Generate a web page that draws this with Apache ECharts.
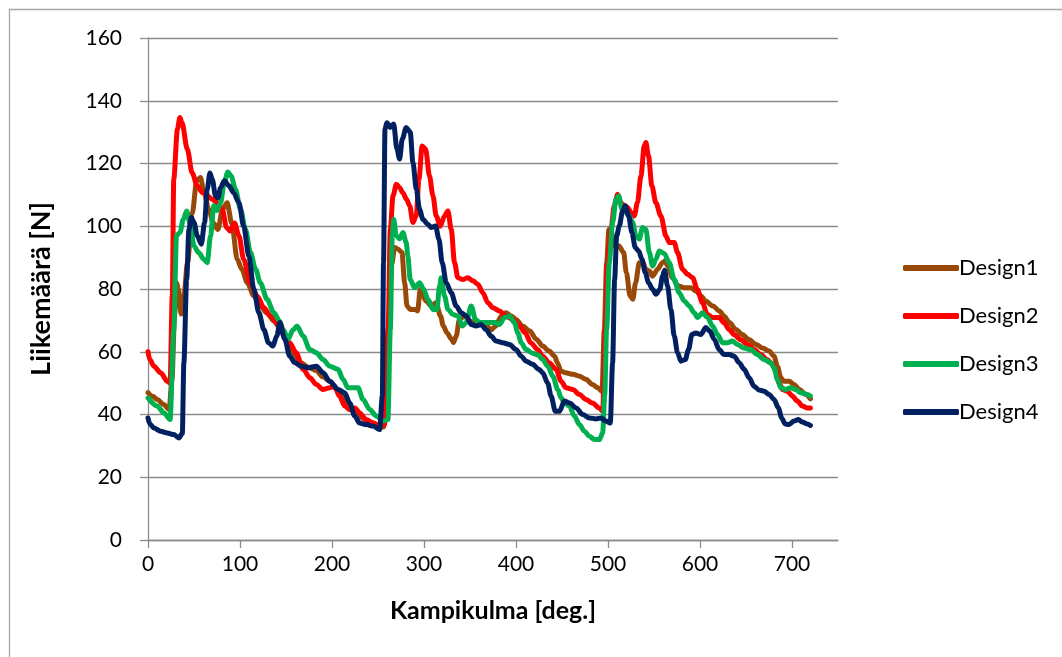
<!DOCTYPE html>
<html>
<head>
<meta charset="utf-8">
<title>Liikemäärä</title>
<script src="https://cdn.jsdelivr.net/npm/echarts@6.0.0/dist/echarts.min.js"></script>
<style>
html, body { margin: 0; padding: 0; background: #fff; }
#main { width: 1062px; height: 657px; }
</style>
</head>
<body>
<div id="main"></div>
<script>
// [kampikulma deg, liikemäärä N]
var design1 = [[0,47],[5,45.8],[10,44.8],[17,43.2],[23,41.6],[26,51],[29,72],[31,82],[33,80],[36,72],[39,78],[43,88.4],[48,104],[53,114.5],[57,115.5],[61,110.7],[66,105.4],[71,101],[76,99],[81,105.4],[86,107.5],[91,101],[97,89.5],[102,86.3],[108,82],[115,77.8],[122,74.6],[129,72.4],[137,69.8],[142,68],[150,64],[158,59.5],[166,56.5],[175,55],[183,54],[190,52],[198,50.5],[205,48],[212,45.5],[218,42.5],[225,40.5],[232,39],[240,37.8],[248,36.8],[256,36],[258,45],[261,67],[265,88],[268,93.2],[272,92.7],[276,91.6],[279,82],[281.5,74.6],[285,73.5],[290,73.5],[293,73],[296,80],[299,77.8],[302,76.2],[308,74.6],[313,75.6],[318,71.4],[321,68.2],[325,66],[330,64],[332,62.9],[335,65],[338.5,70.3],[344,71.4],[349.5,69.8],[355,69.3],[360,68.7],[368,68.2],[373,67],[378,68.2],[384,71.4],[389,72.4],[395,71.4],[400,70.3],[407,68.2],[415,66.6],[422,64],[429,61.8],[436,60.2],[442,58.6],[445,56.5],[449,53.8],[454,53.3],[462,52.8],[469,52.2],[476,51.2],[483,49.6],[489,48.5],[493.5,47.4],[496,67],[498.5,88.4],[501,99],[503,99],[507,93.7],[512,93.7],[517,91.6],[520,85.2],[524,77.8],[527,76.7],[530,82],[534,88.4],[538,88.4],[541,86.3],[545,85.7],[548.5,84.1],[554,86.3],[559,88.4],[562,88.9],[565,87.3],[570,83.6],[576,81],[583,80.4],[590,80.4],[595.5,79.4],[601,77.8],[606,76.2],[614,74.6],[621,73],[626,71.4],[632,69.3],[639,67.1],[646,65.5],[653,63.9],[661,62.3],[668,61.2],[675,60.2],[680.5,58.6],[684,55.4],[688,51.7],[691,50.6],[697,50.6],[702,49.6],[708,48],[715,46.4],[720,45]];

var design2 = [[0,60],[2,57.5],[6.5,55.4],[13.7,53.3],[21,50.6],[24,50],[26.4,77.8],[28,115],[32,131],[34.7,134.7],[37,133],[42.7,124.6],[48,117],[53.5,112.9],[59,110.7],[64.4,109.7],[69.8,108.6],[75,107.5],[80.7,105.4],[85.4,99.6],[89,98.5],[94,101],[98.8,97],[104,89.5],[111,82],[118.7,77.8],[126,74],[133,71.4],[140,69.3],[147,66],[154,62.9],[161,59.7],[168.6,54.4],[176,51.7],[183,49.6],[190,48],[197.5,48.5],[203,49],[208,45.9],[214,42.7],[219,41.6],[225,42.1],[230,40.5],[237,38.4],[245,37.3],[252,36.3],[257,36.8],[261,67],[263.4,99],[266.3,109.7],[270,113.4],[273.5,112.3],[277,110.7],[281,108.6],[284.4,106.5],[288,101.2],[291.6,103.3],[294.5,115],[298,125.6],[301.7,124.6],[306,116],[309.7,109.7],[313.3,103.3],[317.6,100],[322.3,103.3],[326,104.9],[329.6,99],[333.2,88.4],[336.8,83.6],[342,83],[347.7,83.6],[353,82.6],[358.5,81.5],[364,78.8],[369.4,75.6],[375,74],[382,73],[389,71.4],[396.5,70.3],[403.7,68.2],[410,66],[416,62.9],[423.5,60.7],[429,58.6],[436,56.5],[443.5,54.4],[449,50.6],[454.4,48.5],[461.6,48],[469,46.4],[476,44.8],[483,43.7],[490.6,42.1],[494.2,41],[497,67],[499.6,88.4],[503.2,99],[506.8,106.5],[510.5,110.2],[514,107.5],[517.7,106.5],[521.3,106],[525,104.4],[528.6,103.3],[532,107.5],[535.8,116],[539.4,125.6],[541.2,126.7],[544,122.4],[547.7,112.9],[552,107.5],[557.5,103.3],[563,96.9],[566.6,94.8],[572,94.8],[575.6,91.6],[581,86.3],[586.5,84.7],[592,83.6],[597,79.9],[602.7,75.6],[608,71.9],[613.6,70.9],[621,70.9],[626,69.3],[631.7,67.1],[637,65.5],[644,63.9],[651.6,62.3],[659,60.7],[666,59.1],[673,57.5],[678.7,56],[682.3,53.8],[686,50.1],[689.6,48],[695,47.4],[700.4,45.9],[705.8,44.3],[711.3,42.7],[716.7,42.1],[720,42.1]];

var design3 = [[0,45.3],[10,42.7],[17.4,40.5],[24,38.4],[28,67],[31,97],[34.7,98],[38.4,102.2],[42,104.9],[45.6,101],[50,93.7],[55,91.6],[60.8,89.5],[64.4,88.4],[68,97],[71.6,106.5],[75,105],[78.9,107.5],[83,114],[86.8,117.3],[90.4,116],[95,111.8],[100.6,105.4],[106,99],[111.4,91.6],[117,86.3],[122,82],[129.5,76.7],[136.8,72.4],[143,69.8],[147,67],[152.3,64],[157.7,67],[162,68.2],[168.6,65],[175.8,60.7],[183,59.7],[190.3,57.5],[197.5,55.4],[206.6,54.4],[212,51.2],[217.4,48.5],[222.8,48.5],[228.3,48.5],[233.7,44.8],[241,41.6],[248.2,39.5],[255.4,37.9],[260.8,38.4],[263.4,67],[265.5,97],[267,102.2],[269.9,97],[273.5,96],[277.1,98],[280.7,94.8],[282.5,90.5],[285,83],[289.8,80.4],[295.2,82],[299.5,80],[304.3,76.7],[309.7,73.5],[314,73.5],[317,81],[318.7,83.6],[322.3,77.8],[326,73.5],[331.4,71.9],[336.8,71.4],[341.5,68.2],[345.9,69.3],[351.3,74.6],[356,70.3],[360.3,69.3],[365.8,69.3],[371.2,69.3],[376.6,69.3],[382,68.7],[387.5,70.9],[392.9,71.4],[398.3,69.3],[402,66],[405.6,62.9],[411,60.7],[418,59.5],[424,59],[429,57.5],[434.5,55.4],[440,52.2],[445.4,48],[449,45.3],[452.6,43.7],[458,42.7],[463.4,39.5],[468.9,36.8],[474.3,34.7],[479.7,33.1],[485.2,32],[490.6,32],[494.2,34.1],[496.4,45.9],[498.5,67],[501.4,88.4],[505,101.2],[508.7,108.6],[511.6,109.7],[515.2,105.4],[519.5,104.4],[523.1,103.3],[526.8,101.2],[530.4,97],[534,95.9],[537.6,99.6],[541.2,99],[544.9,91.6],[548.5,87.3],[552.1,89.5],[555.7,92.1],[561.1,91.3],[566.6,88.4],[572,83],[577.4,78.8],[582.8,76.2],[588.3,74.6],[593.7,72.4],[597.3,70.9],[602.7,72.4],[608.2,70.9],[613.6,68.2],[619,65.5],[624.4,62.9],[629.9,62.9],[635.3,63.4],[640.7,62.3],[648,61.2],[655.2,60.7],[662.4,59.1],[669.7,57.5],[676.9,56.5],[680.5,54.9],[684.1,51.2],[687.8,48.5],[693.2,48],[698.6,48.5],[704,48],[709.5,46.9],[716.7,46.4],[720,45.9]];

var design4 = [[0,38.9],[2,37],[6.5,35.7],[13.7,34.7],[21,34.1],[28,33.6],[33.6,32.5],[37.3,34],[39,56.5],[42,83],[44.5,99],[47,102.8],[50,101.2],[53.5,97],[58,94.3],[61.5,101.2],[64.4,111.8],[67.3,117],[69.8,115],[73.4,109.7],[76,109],[78.9,112.3],[83,114.5],[88,112.9],[93,110.7],[98.8,107.5],[104,100],[109.6,90.5],[115,80],[120.5,72.4],[126,67],[131,62.9],[135.7,61.8],[140,65],[143.3,69.3],[148.7,64],[154,58.6],[159.5,56.5],[166.8,55.4],[174,54.9],[183,55.4],[190.3,53.3],[197.5,50.6],[206.6,48],[213.8,46.9],[219.2,43.7],[224.7,39.5],[230,37.3],[237.3,36.8],[244.6,36.3],[251.8,35.2],[254.7,45.9],[256,88.4],[257.6,131],[259.7,133],[263.4,131.5],[267,132.6],[270.6,124.6],[273.5,121.4],[276.4,127.8],[280.7,131.5],[285,130],[288,120.3],[291.6,111.8],[295.2,105.4],[298.8,102.2],[304.3,100.6],[307.9,99.6],[312.6,100.1],[316.2,95.9],[319.8,88.4],[324.2,82],[329.6,78.8],[335,74.6],[340.4,72.4],[345.9,71.4],[351.3,68.7],[356.7,68.2],[362.1,68.7],[367.6,67],[373,65],[378.4,63.4],[385.7,62.9],[392.9,62.3],[400.1,60.7],[405.6,58.6],[411,57],[418,56],[425,54.4],[429,53.3],[434.5,50],[438.1,45.9],[442.8,41],[447.2,41],[452.6,44.3],[458,43.7],[465.3,42.1],[472.5,40],[479.7,38.9],[487,38.6],[492.4,38.9],[497.8,37.9],[502.5,37.3],[505,56.5],[507.2,83],[509.4,96.9],[512.3,100.1],[515.9,104.9],[518.8,106.5],[522.4,103.3],[526,98],[529.7,93.2],[533.3,92.1],[536.9,89.5],[540.5,85.2],[544.1,82],[548.5,79.9],[552.1,78.3],[556.4,79.9],[559.3,84.1],[561.5,86],[564.7,81],[568.4,73.5],[572,65],[575.6,59.7],[579.2,57],[584,57.5],[587.5,60.7],[591.2,65.5],[595.5,66],[600.9,65.5],[606.3,67.7],[610.7,66.6],[615.4,64],[620.8,60.7],[626.2,59.1],[631.7,59.1],[637.1,58.6],[642.5,56.5],[648,54.4],[653.4,51.7],[658.8,49],[664.2,47.8],[669.7,47.4],[675.1,46.4],[680.5,44.8],[685.2,42.1],[688.8,38.9],[692.5,37],[696.8,36.8],[702.2,37.9],[706.9,38.4],[711.3,37.6],[716.7,37],[720,36.5]];

var seriesNames = ['Design1', 'Design2', 'Design3', 'Design4'];
var seriesData = [design1, design2, design3, design4];
var colors = ['#984807', '#ff0000', '#00b050', '#002060'];
var xTicks = [0, 100, 200, 300, 400, 500, 600, 700];

var FONT = 'Lato, "Open Sans", sans-serif';

var chart = echarts.init(document.getElementById('main'));

var series = seriesNames.map(function (name, i) {
    return {
        name: name,
        type: 'line',
        data: seriesData[i],
        symbol: 'none',
        smooth: 0.3,
        smoothMonotone: 'x',
        lineStyle: { color: colors[i], width: 5, cap: 'round', join: 'round' },
        itemStyle: { color: colors[i] },
        z: 2 + i
    };
});

chart.setOption({
    animation: false,
    backgroundColor: '#fff',
    color: colors,
    textStyle: { fontFamily: FONT },
    // chart area border like the excel frame
    graphic: [{
        type: 'rect',
        shape: { x: 9.5, y: 9.5, width: 1100, height: 700 },
        style: { fill: 'none', stroke: '#a6a6a6', lineWidth: 1.3 },
        silent: true
    }],
    grid: { left: 148, right: 224, top: 38, bottom: 117 },
    legend: {
        orient: 'vertical',
        left: 898,
        top: 251,
        icon: 'roundRect',
        itemWidth: 56,
        itemHeight: 6,
        itemGap: 24,
        textStyle: { fontFamily: FONT, fontSize: 22, color: '#000', lineHeight: 24, padding: [0, 0, 0, -5] },
        data: seriesNames
    },
    xAxis: {
        type: 'value',
        min: 0,
        max: 750,
        interval: 100,
        name: 'Kampikulma [deg.]',
        nameLocation: 'middle',
        nameGap: 58,
        nameMoveOverlap: false,
        nameTextStyle: { fontFamily: FONT, fontSize: 25, fontWeight: 'bold', color: '#000' },
        axisLine: { lineStyle: { color: '#8c8c8c', width: 1.3 } },
        axisTick: { show: true, length: 8, lineStyle: { color: '#8c8c8c', width: 1.3 }, customValues: xTicks },
        axisLabel: { fontFamily: FONT, fontSize: 21, color: '#000', margin: 14, customValues: xTicks },
        splitLine: { show: false }
    },
    yAxis: {
        type: 'value',
        min: 0,
        max: 160,
        interval: 20,
        name: 'Liikemäärä [N]',
        nameLocation: 'middle',
        nameGap: 93,
        nameMoveOverlap: false,
        nameTextStyle: { fontFamily: FONT, fontSize: 27, fontWeight: 'bold', color: '#000' },
        axisLine: { show: true, lineStyle: { color: '#8c8c8c', width: 1.3 } },
        axisTick: { show: true, length: 8, lineStyle: { color: '#8c8c8c', width: 1.3 } },
        axisLabel: { fontFamily: FONT, fontSize: 21, color: '#000', margin: 26 },
        splitLine: { lineStyle: { color: '#8c8c8c', width: 1.3 } }
    },
    series: series
});
</script>
</body>
</html>
